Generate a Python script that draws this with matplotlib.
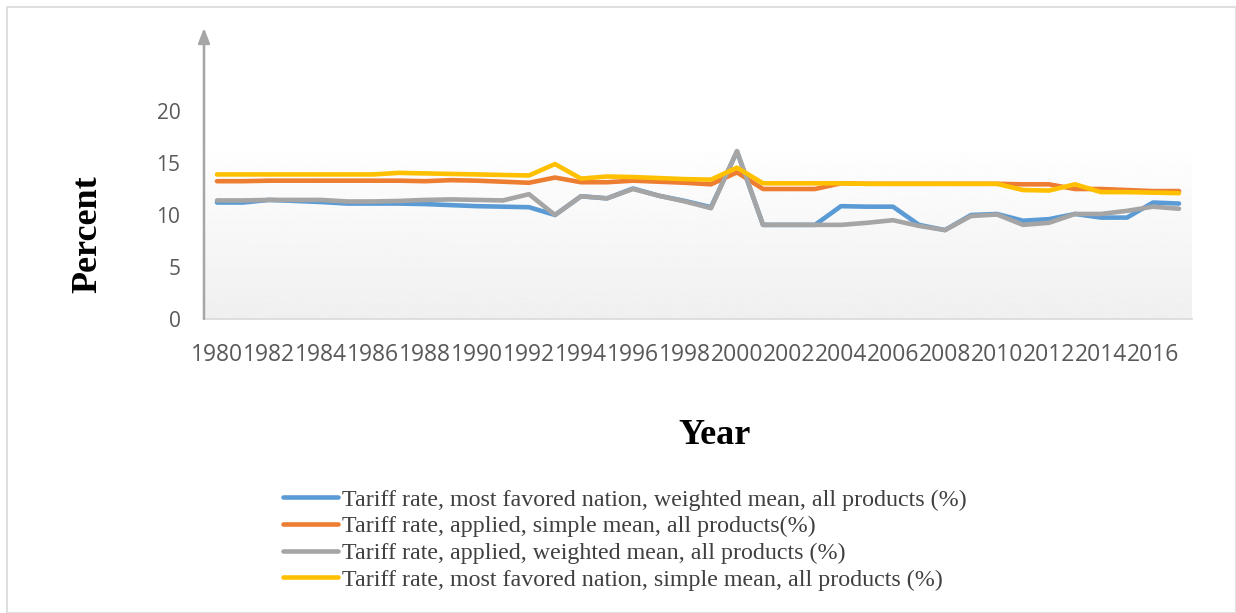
import numpy as np
import matplotlib.pyplot as plt

# Data
years = list(range(1980, 2018))

mfn_weighted = [11.2, 11.2, 11.45, 11.35, 11.25, 11.1, 11.1, 11.1, 11.05, 10.95,
                10.85, 10.8, 10.75, 10.0, 11.8, 11.6, 12.55, 11.85, 11.35, 10.75,
                16.1, 9.05, 9.05, 9.05, 10.85, 10.8, 10.8, 9.05, 8.55, 10.0,
                10.1, 9.45, 9.6, 10.1, 9.75, 9.75, 11.2, 11.1]

applied_simple = [13.25, 13.25, 13.3, 13.3, 13.3, 13.3, 13.3, 13.3, 13.25, 13.35,
                  13.3, 13.2, 13.1, 13.6, 13.15, 13.15, 13.3, 13.2, 13.1, 12.95,
                  14.1, 12.5, 12.5, 12.5, 13.05, 13.0, 13.0, 13.0, 13.0, 13.0,
                  13.0, 12.95, 12.95, 12.5, 12.5, 12.4, 12.3, 12.3]

applied_weighted = [11.4, 11.4, 11.45, 11.45, 11.45, 11.3, 11.3, 11.35, 11.45, 11.5,
                    11.45, 11.4, 12.0, 10.0, 11.8, 11.6, 12.5, 11.85, 11.3, 10.65,
                    16.15, 9.05, 9.05, 9.05, 9.05, 9.25, 9.5, 8.95, 8.55, 9.9,
                    10.05, 9.05, 9.25, 10.1, 10.1, 10.4, 10.8, 10.6]

mfn_simple = [13.9, 13.9, 13.9, 13.9, 13.9, 13.9, 13.9, 14.05, 14.0, 13.95,
              13.9, 13.85, 13.8, 14.9, 13.5, 13.7, 13.65, 13.55, 13.45, 13.4,
              14.55, 13.05, 13.05, 13.05, 13.05, 13.0, 13.0, 13.0, 13.0, 13.0,
              13.0, 12.4, 12.35, 12.95, 12.2, 12.2, 12.15, 12.1]

labels = [
    "Tariff rate, most favored nation, weighted mean, all products (%)",
    "Tariff rate, applied, simple mean, all products(%)",
    "Tariff rate, applied, weighted mean, all products (%)",
    "Tariff rate, most favored nation, simple mean, all products (%)",
]
colors = ["#5B9BD5", "#ED7D31", "#A5A5A5", "#FFC000"]
series = [mfn_weighted, applied_simple, applied_weighted, mfn_simple]

W, H = 1236, 613
fig = plt.figure(figsize=(W / 100, H / 100), dpi=100)

# axes in pixel coordinates: left 204, right 1192, bottom 319, top 28
x0, x1, yb, yt = 204, 1192, 319, 28
ax = fig.add_axes([x0 / W, 1 - yb / H, (x1 - x0) / W, (yb - yt) / H])
ymax = (yb - yt) / 10.4
ax.set_xlim(1979.5, 2017.5)
ax.set_ylim(0, ymax)

# subtle vertical gradient for plot area
grad = np.linspace(0.94, 1.0, 256).reshape(-1, 1)
ax.imshow(grad, cmap="gray", vmin=0, vmax=1, aspect="auto",
          extent=[1979.5, 2017.5, 0, 17.3], origin="lower", zorder=0)

for vals, c, lab in zip(series, colors, labels):
    ax.plot(years, vals, color=c, lw=3.3, label=lab, solid_capstyle="round", zorder=2)

for s in ["top", "right", "left"]:
    ax.spines[s].set_visible(False)
ax.spines["bottom"].set_color("#d9d9d9")
ax.spines["bottom"].set_linewidth(1.2)

# y axis drawn as arrow
ax.annotate("", xy=(0, 1.0), xycoords="axes fraction", xytext=(0, 0),
            textcoords="axes fraction",
            arrowprops=dict(arrowstyle="-|>,head_length=0.9,head_width=0.35",
                            color="#a6a6a6", lw=1.8, shrinkA=0, shrinkB=0))

ax.set_yticks([0, 5, 10, 15, 20])
ax.set_xticks(years[::2])
ax.tick_params(axis="both", length=0, colors="#595959")
ax.tick_params(axis="y", labelsize=15, pad=17)
ax.tick_params(axis="x", labelsize=16.5, pad=17)
for t in ax.get_xticklabels() + ax.get_yticklabels():
    t.set_fontfamily("Open Sans")

ax.set_ylabel("Percent", fontfamily="Liberation Serif", fontweight="bold",
              fontsize=26, color="black")
ax.yaxis.set_label_coords(-0.101, 0.29)
ax.set_xlabel("Year", fontfamily="Liberation Serif", fontweight="bold",
              fontsize=26, color="black")
ax.xaxis.set_label_coords(0.517, -0.345)

leg = fig.legend(loc="upper left", bbox_to_anchor=(283 / W, 1 - 489 / H),
                 frameon=False, prop={"family": "Liberation Serif", "size": 17.3},
                 handlelength=2.3, handletextpad=0.15, labelspacing=0.2,
                 borderaxespad=0, borderpad=0)
for txt in leg.get_texts():
    txt.set_color("#404040")

# light border around the figure
fig.add_artist(plt.Rectangle((7 / W, 0), 1 - 7 / W, 1 - 7 / H, transform=fig.transFigure,
                             fill=False, edgecolor="#d9d9d9", lw=1.2))

fig.savefig("out.png", dpi=100)
